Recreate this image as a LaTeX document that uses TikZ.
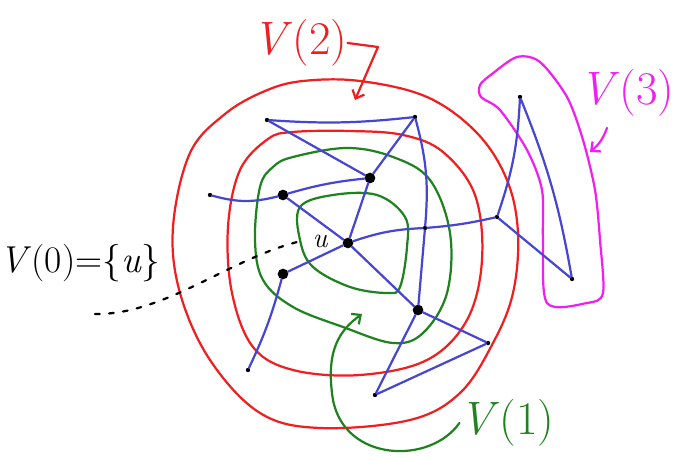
\documentclass[tikz,border=0pt]{standalone}
\usepackage{tikz}
\usetikzlibrary{arrows.meta, positioning}
\definecolor{penred}{RGB}{240,30,30}
\definecolor{pengreen}{RGB}{30,130,30}
\definecolor{penblue}{RGB}{70,70,210}
\definecolor{penmagenta}{RGB}{240,30,240}

\begin{document}
\begin{tikzpicture}[x=0.03cm, y=-0.03cm]
	\tikzstyle{pen} = [line width=1.9pt, line cap=round, line join=round]
	\tikzstyle{edge} = [pen, penblue]
	\tikzstyle{big} = [circle, fill=black, inner sep=0pt, minimum size=0.32cm]
	\tikzstyle{small} = [circle, fill=black, inner sep=0pt, minimum size=0.13cm]
	\tikzstyle{tag} = [inner sep=0pt, font=\fontsize{40}{42}\selectfont]
	\tikzstyle{arrow} = [pen, -{Straight Barb[length=6pt, width=11pt]}]

	\useasboundingbox (0,0) rectangle (686,457);

	\draw[pen, penred] plot[smooth cycle, tension=0.6] coordinates {(265,91) (303,81) (360,81) (427,97) (477,133) (507,180) (518,233) (513,293) (493,343) (460,393) (410,420) (320,428) (260,413) (210,360) (180,293) (173,227) (190,153) (225,114)};
	\draw[pen, penred] plot[smooth cycle, tension=0.6] coordinates {(293,132) (350,131) (403,135) (443,152) (475,195) (482,260) (467,320) (427,360) (360,375) (293,370) (253,347) (232,293) (228,227) (240,170) (268,139)};
	\draw[pen, pengreen] plot[smooth cycle, tension=0.6] coordinates {(293,157) (347,148) (393,157) (430,180) (450,233) (447,293) (423,333) (393,343) (343,327) (293,307) (263,280) (255,240) (260,187) (273,167)};
	\draw[pen, pengreen] plot[smooth cycle, tension=0.6] coordinates {(300,207) (333,195) (377,195) (405,217) (407,247) (400,287) (387,293) (350,287) (313,267) (300,240)};
	\draw[pen, penmagenta] plot[smooth cycle, tension=0.5] coordinates {(517,57) (540,62) (567,97) (583,140) (595,190) (600,240) (603,293) (587,303) (547,303) (543,240) (542,190) (527,150) (500,110) (481,97) (480,85) (492,74)};

	\node[big](u) at (348,243){};
	\node[big](a) at (370,178){};
	\node[big](b) at (283,195){};
	\node[big](c) at (283,274){};
	\node[big](d) at (418,310){};
	\node[small](tl) at (267,120){};
	\node[small](tr) at (415,117){};
	\node[small](fl) at (210,195){};
	\node[small](bl) at (248,370){};
	\node[small](w) at (425,228){};
	\node[small](r) at (497,217){};
	\node[small](rs) at (488,343){};
	\node[small](bt) at (375,395){};
	\node[small](vt) at (520,97){};
	\node[small](vb) at (572,279){};

	\draw[edge] (tl) to[bend right=5] (tr);
	\draw[edge] (tl) to (a);
	\draw[edge] (tr) to (a);
	\draw[edge] (tr) to[bend left=10] (w);
	\draw[edge] (w) to (d);
	\draw[edge] (fl) to[bend right=15] (b);
	\draw[edge] (b) to[bend left=5] (a);
	\draw[edge] (u) to (a);
	\draw[edge] (u) to (b);
	\draw[edge] (u) to (c);
	\draw[edge] (u) to (d);
	\draw[edge] (u) to[bend left=8] (w);
	\draw[edge] (w) to[bend right=4] (r);
	\draw[edge] (c) to[bend left=5] (bl);
	\draw[edge] (d) to (rs);
	\draw[edge] (d) to (bt);
	\draw[edge] (bt) to (rs);
	\draw[edge] (r) to[bend right=8] (vt);
	\draw[edge] (vt) to[bend left=6] (vb);
	\draw[edge] (r) to (vb);

	\node[inner sep=1pt, font=\fontsize{24}{26}\selectfont\itshape](ulab) at (320,241){u};
	\node[tag, font=\fontsize{32}{34}\selectfont](v0) at (80,263){\textit{V}(0)=\{\textit{u}\}};
	\node[tag, penred](v2) at (300,43){\textit{V}(2)};
	\node[tag, penmagenta](v3) at (627,93){\textit{V}(3)};
	\node[tag, pengreen](v1) at (507,423){\textit{V}(1)};

	\coordinate (dotstart) at (95,314);
	\draw[pen, dashed, dash pattern=on 4pt off 8pt] (dotstart) .. controls (165,315) and (230,258) .. ([xshift=-0.3cm]ulab.west);

	\coordinate (v2tip) at (355,100);
	\draw[arrow, penred] (v2.east) -- (378,47) -- (v2tip);

	\coordinate (v3tail) at (607,128);
	\coordinate (v3tip) at (590,152);
	\draw[arrow, penmagenta] (v3tail) to[bend left=15] (v3tip);

	\coordinate (v1tip) at (362,314);
	\draw[arrow, pengreen] (v1.west) .. controls (430,465) and (345,462) .. (333,400) .. controls (325,350) and (340,330) .. (v1tip);

\end{tikzpicture}
\end{document}
